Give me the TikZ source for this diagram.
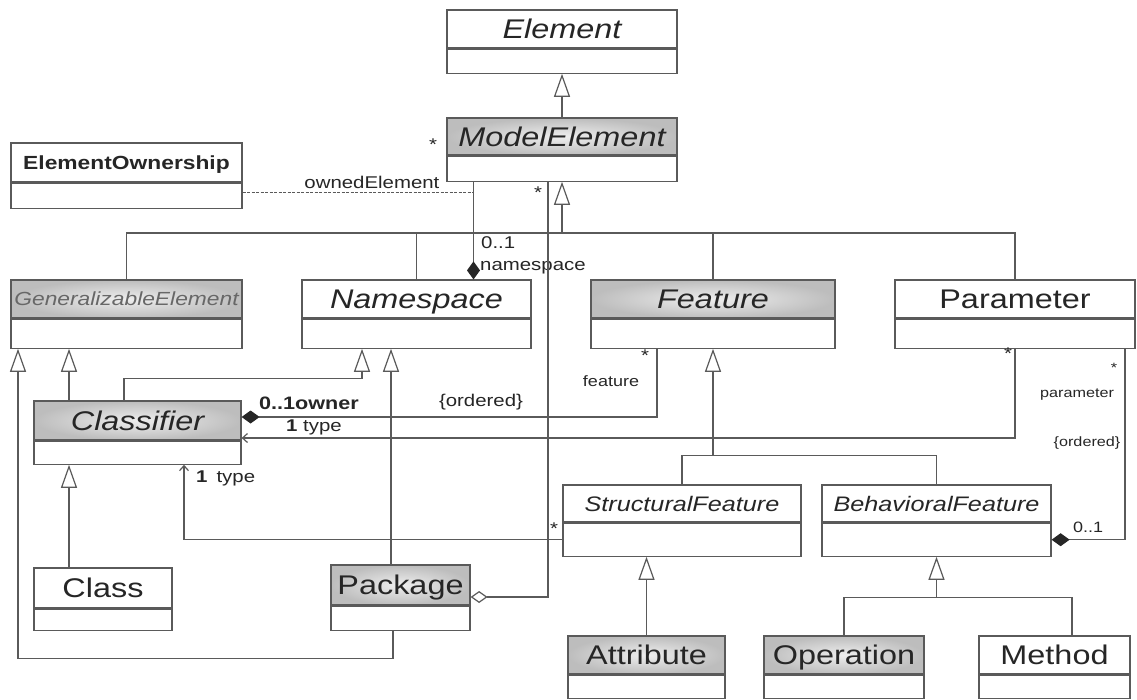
\documentclass[tikz,border=0pt]{standalone}
\usepackage{fontspec}
\newfontfamily\umlfont[FakeStretch=1.2]{Liberation Sans}
\usepackage{tikz}
\usetikzlibrary{positioning}
\usetikzlibrary{arrows.meta}
\definecolor{linegray}{HTML}{5A5A5A}
\definecolor{textgray}{HTML}{262626}
\definecolor{hdgray}{HTML}{BDBDBD}
\definecolor{hdlight}{HTML}{EEEEEE}
\newcommand{\clsfont}{\umlfont\fontsize{27}{30}\selectfont}
\newcommand{\subfont}{\umlfont\fontsize{21}{24}\selectfont}
\newcommand{\nmfont}{\umlfont\fontsize{19}{22}\selectfont}
\newcommand{\lblfont}{\umlfont\fontsize{17}{19}\selectfont}
\newcommand{\rolefont}{\umlfont\fontsize{15}{17}\selectfont}
\newcommand{\tnyfont}{\umlfont\fontsize{13.5}{15}\selectfont}

\begin{document}
\begin{tikzpicture}[x=1pt, y=-1pt,
  umlhead/.style={draw=linegray, line width=1.2pt, inner sep=0pt, text depth=0pt, text=textgray, font=\clsfont},
  umlshade/.style={inner color=hdlight, outer color=hdgray},
  umlbody/.style={draw=linegray, line width=1.2pt, inner sep=0pt, fill=white},
  umlline/.style={draw=linegray, line width=1.2pt},
  gen/.style={umlline, -{Triangle[open, length=23pt, width=16pt]}},
  compo/.style={umlline, {Diamond[length=18pt, width=13pt, color=black!85]}-},
  aggr/.style={umlline, {Diamond[open, length=17pt, width=12pt]}-},
  nav/.style={umlline, -{Straight Barb[length=5pt, width=9pt]}},
  link/.style={umlline, line width=0.8pt, dash pattern=on 3pt off 1.5pt},
  lbl/.style={inner sep=0pt, text=textgray, font=\lblfont},
]
\fill[white] (0,0) rectangle (1137,699);
\useasboundingbox (0,0) rectangle (1137,699);

% classes
\node[umlhead, minimum width=230pt, minimum height=38pt, font=\clsfont\itshape] (elem) at (562,29) {Element};
\node[umlbody, minimum width=230pt, minimum height=24pt, below=0pt of elem] (elem-c) {};
\node[umlhead, umlshade, minimum width=230pt, minimum height=37pt, font=\clsfont\itshape] (modelelem) at (562,136.5) {ModelElement};
\node[umlbody, minimum width=230pt, minimum height=25pt, below=0pt of modelelem] (modelelem-c) {};
\node[umlhead, minimum width=231pt, minimum height=39pt, font=\nmfont\bfseries] (elemown) at (126.5,162.5) {ElementOwnership};
\node[umlbody, minimum width=231pt, minimum height=25pt, below=0pt of elemown] (elemown-c) {};

\node[umlhead, umlshade, minimum width=231pt, minimum height=38pt, font=\nmfont\itshape, text=textgray!70] (genelem) at (126.5,299) {GeneralizableElement};
\node[umlbody, minimum width=231pt, minimum height=29pt, below=0pt of genelem] (genelem-c) {};
\node[umlhead, minimum width=229pt, minimum height=38pt, font=\clsfont\itshape] (namespace) at (416.5,299) {Namespace};
\node[umlbody, minimum width=229pt, minimum height=29pt, below=0pt of namespace] (namespace-c) {};
\node[umlhead, umlshade, minimum width=244pt, minimum height=38pt, font=\clsfont\itshape] (feature) at (713,299) {Feature};
\node[umlbody, minimum width=244pt, minimum height=29pt, below=0pt of feature] (feature-c) {};
\node[umlhead, minimum width=240pt, minimum height=38pt] (param) at (1015,299) {Parameter};
\node[umlbody, minimum width=240pt, minimum height=29pt, below=0pt of param] (param-c) {};

\node[umlhead, umlshade, minimum width=207pt, minimum height=39pt, font=\clsfont\itshape] (classifier) at (137.5,420.5) {Classifier};
\node[umlbody, minimum width=207pt, minimum height=23pt, below=0pt of classifier] (classifier-c) {};
\node[umlhead, minimum width=138pt, minimum height=40pt] (class) at (103,588) {Class};
\node[umlbody, minimum width=138pt, minimum height=21pt, below=0pt of class] (class-c) {};
\node[umlhead, umlshade, minimum width=139pt, minimum height=40pt] (package) at (400.5,585) {Package};
\node[umlbody, minimum width=139pt, minimum height=24pt, below=0pt of package] (package-c) {};

\node[umlhead, minimum width=238pt, minimum height=37pt, font=\subfont\itshape] (sf) at (682,503.5) {StructuralFeature};
\node[umlbody, minimum width=238pt, minimum height=33pt, below=0pt of sf] (sf-c) {};
\node[umlhead, minimum width=229pt, minimum height=37pt, font=\subfont\itshape] (bf) at (936.5,503.5) {BehavioralFeature};
\node[umlbody, minimum width=229pt, minimum height=33pt, below=0pt of bf] (bf-c) {};

\node[umlhead, umlshade, minimum width=157pt, minimum height=38pt] (attribute) at (646.5,655) {Attribute};
\node[umlbody, minimum width=157pt, minimum height=23pt, below=0pt of attribute] (attribute-c) {};
\node[umlhead, umlshade, minimum width=160pt, minimum height=38pt] (operation) at (844,655) {Operation};
\node[umlbody, minimum width=160pt, minimum height=23pt, below=0pt of operation] (operation-c) {};
\node[umlhead, minimum width=151pt, minimum height=38pt] (method) at (1054.5,655) {Method};
\node[umlbody, minimum width=151pt, minimum height=23pt, below=0pt of method] (method-c) {};

% generalization tree below ModelElement
\coordinate (genbar) at (562,233);
\draw[gen] (modelelem.north) -- (elem-c.south);
\draw[gen] (genbar) -- (modelelem-c.south);
\draw[umlline] (genelem.north) |- (genbar) -| (param.north);
\draw[umlline] (namespace.north) -- (namespace.north |- genbar);
\draw[umlline] (feature.north) -- (feature.north |- genbar);

% namespace ownership
\coordinate (nsown) at ([xshift=57pt]namespace.north);
\draw[compo] (nsown) -- (nsown |- modelelem-c.south);
\coordinate (ownend) at ([yshift=3pt]elemown-c.east);
\draw[link] (ownend) -- (ownend -| nsown) node[lbl, pos=0.56, above=4pt] (ownlbl) {ownedElement};
\node[lbl] (mestar) at (433,145) {*};
\node[lbl, anchor=west] (nsmult) at (481,243) {0..1};
\node[lbl, anchor=west] (nsrole) at (480,268) {namespace};

% package aggregation
\coordinate (meagg) at ([xshift=-14pt]modelelem-c.south);
\coordinate (pkagg) at ([yshift=-12pt]package.east);
\draw[aggr] (pkagg) -| (meagg);
\node[lbl] (aggstar) at (538,193) {*};

% classifier owns features
\coordinate (clsown) at ([yshift=3.5pt]classifier.east);
\draw[compo] (clsown) -| ([xshift=-56pt]feature-c.south);
\node[lbl, anchor=west, font=\umlfont\fontsize{18}{20}\selectfont\bfseries] (ownmult) at (259,403) {0..1owner};
\node[lbl] (ordlbl) at (481,402) {\{ordered\}};
\node[lbl] (featstar) at (645,356) {*};
\node[lbl, font=\rolefont] (featrole) at (611,381) {feature};

% types
\draw[nav] (param-c.south) |- ([yshift=-17.5pt]classifier.east);
\node[lbl] (parstar) at (1008,354) {*};
\node[lbl, anchor=west] (partype) at (286,427) {\textbf{1} type};
\draw[nav] (sf-c.west) -| ([xshift=46.5pt]classifier-c.south);
\node[lbl, anchor=west] (sftype) at (196,478) {\textbf{1}\hspace{9pt}type};
\node[lbl] (sfstar) at (554,529) {*};

% classifier, class, package generalizations
\draw[gen] ([xshift=-13.5pt]classifier.north) -- ++(0,22pt) -| ([xshift=-54.5pt]namespace-c.south);
\coordinate (clsgen) at ([xshift=-68.5pt]classifier.north);
\draw[gen] (clsgen) -- (clsgen |- genelem-c.south);
\coordinate (clagen) at ([xshift=-34pt]class.north);
\draw[gen] (clagen) -- (clagen |- classifier-c.south);
\draw[gen] ([xshift=-7.5pt]package-c.south) -- ++(0,-28pt) -| ([xshift=-108.5pt]genelem-c.south);
\coordinate (pkgen) at ([xshift=-9.5pt]package.north);
\draw[gen] (pkgen) -- (pkgen |- namespace-c.south);

% feature subtree
\coordinate (featfork) at ([yshift=29pt]sf.north);
\draw[umlline] (sf.north) -- (featfork) -| (bf.north);
\draw[gen] (featfork -| feature-c.south) -- (feature-c.south);
\draw[gen] (attribute.north) -- (attribute.north |- sf-c.south);
\coordinate (bffork) at ([yshift=38pt]operation.north);
\draw[umlline] (operation.north) -- (bffork) -| ([xshift=17.5pt]method.north);
\draw[gen] (bffork -| bf-c.south) -- (bf-c.south);

% parameters of behavioral feature
\draw[compo] (bf-c.east) -| ([xshift=110pt]param-c.south);
\node[lbl, font=\tnyfont] (parrstar) at (1114,368) {*};
\node[lbl, font=\tnyfont] (parrole) at (1077,395) {parameter};
\node[lbl, font=\tnyfont] (parord) at (1087,443) {\{ordered\}};
\node[lbl, anchor=west, font=\rolefont] (bfmult) at (1073,527) {0..1};
\end{tikzpicture}
\end{document}
